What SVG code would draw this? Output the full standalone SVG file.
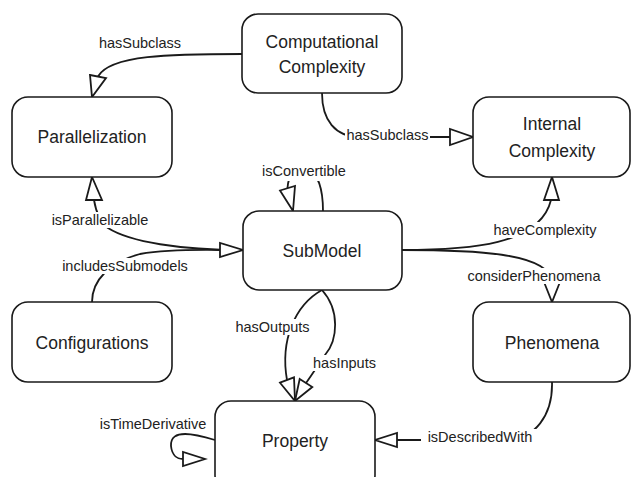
<svg xmlns="http://www.w3.org/2000/svg" width="632" height="477" viewBox="0 0 632 477">
<style>
.node rect{fill:#fff;stroke:#1a1a1a;stroke-width:1.6}
.node text{font-family:"Liberation Sans",Arial,sans-serif;font-size:17.5px;fill:#222;text-anchor:middle}
.edge{fill:none;stroke:#1a1a1a;stroke-width:1.8}
.head{fill:#fff;stroke:#1a1a1a;stroke-width:1.8;stroke-linejoin:miter}
.lbl rect{fill:#fff;stroke:none}
.lbl text{font-family:"Liberation Sans",Arial,sans-serif;font-size:14.5px;fill:#222;text-anchor:middle}
</style>
<rect width="632" height="477" fill="#fff"/>
<g id="connectors">
  <g id="e-hasSubclass-1">
    <path class="edge" d="M242,54 C170,54 110,55 98,76.5"/>
    <polygon class="head" points="90,75 106,78 92,97"/>
  </g>
  <g id="e-hasSubclass-2">
    <path class="edge" d="M322,93 C322,120 335,137 360,137 L450,137"/>
    <polygon class="head" points="450,129 450,145 473,137"/>
  </g>
  <g id="e-isParallelizable">
    <path class="edge" d="M243,250 C180,250 130,242 108,228 C100,222 96,212 94,200"/>
    <polygon class="head" points="86,200 102,200 92,177"/>
  </g>
  <g id="e-includesSubmodels">
    <path class="edge" d="M92,302 C92,280 110,262 140,254 C170,249 200,250 220,250"/>
    <polygon class="head" points="220,243 220,257 243,250"/>
  </g>
  <g id="e-isConvertible">
    <path class="edge" d="M323,211 C323,192 319,170 305,170 C292,170 288,178 287.5,188"/>
    <polygon class="head" points="280,190.5 295,186 293,211"/>
  </g>
  <g id="e-haveComplexity">
    <path class="edge" d="M402,250 C470,250 540,245 551,200"/>
    <polygon class="head" points="544,200 559,200 552,177"/>
  </g>
  <g id="e-considerPhenomena">
    <path class="edge" d="M402,250 C470,250 550,252 552,282"/>
    <polygon class="head" points="544,282 560,282 552,302"/>
  </g>
  <g id="e-hasOutputs">
    <path class="edge" d="M322,290 C295,305 280,340 287,380"/>
    <polygon class="head" points="280,382.7 294,377.3 295,401"/>
  </g>
  <g id="e-hasInputs">
    <path class="edge" d="M322,290 C340,310 338,340 325,355 C318,365 312,375 306,383"/>
    <polygon class="head" points="299.7,379 312.3,387 295,401"/>
  </g>
  <g id="e-isTimeDerivative">
    <path class="edge" d="M215,440 C195,434 170,428 171,446 C172,456 178,459 183,459"/>
    <polygon class="head" points="183,452 183,466 205,459"/>
  </g>
  <g id="e-isDescribedWith">
    <path class="edge" d="M552,382 C553,415 535,440 505,440 L397,440"/>
    <polygon class="head" points="397,433 397,447 375,440"/>
  </g>
  <g id="labels">
    <g class="lbl"><rect x="97" y="35" width="86" height="16"/><text x="140" y="48">hasSubclass</text></g>
    <g class="lbl"><rect x="345" y="127" width="85" height="16"/><text x="387.5" y="140">hasSubclass</text></g>
    <g class="lbl"><rect x="257" y="162" width="94" height="19"/><text x="304" y="176">isConvertible</text></g>
    <g class="lbl"><rect x="47" y="212" width="106" height="16"/><text x="100" y="225">isParallelizable</text></g>
    <g class="lbl"><rect x="56" y="258" width="138" height="16"/><text x="125" y="271">includesSubmodels</text></g>
    <g class="lbl"><rect x="487" y="222" width="116" height="16"/><text x="545" y="235">haveComplexity</text></g>
    <g class="lbl"><rect x="460" y="268" width="148" height="16"/><text x="534" y="281">considerPhenomena</text></g>
    <g class="lbl"><rect x="231" y="319" width="83" height="16"/><text x="272.5" y="332">hasOutputs</text></g>
    <g class="lbl"><rect x="310" y="355" width="69" height="16"/><text x="344.5" y="368">hasInputs</text></g>
    <g class="lbl"><rect x="93" y="416" width="119" height="16"/><text x="153" y="429">isTimeDerivative</text></g>
    <g class="lbl"><rect x="421" y="429" width="119" height="16"/><text x="480" y="442">isDescribedWith</text></g>
  </g>
</g>
<g id="n-computational-complexity" class="node">
  <rect x="242" y="14" width="160" height="79" rx="16"/>
  <text x="322" y="48">Computational</text>
  <text x="322" y="73">Complexity</text>
</g>
<g id="n-parallelization" class="node">
  <rect x="12" y="97" width="160" height="80" rx="16"/>
  <text x="92" y="143">Parallelization</text>
</g>
<g id="n-internal-complexity" class="node">
  <rect x="473" y="97" width="157" height="80" rx="16"/>
  <text x="552" y="130">Internal</text>
  <text x="552" y="157">Complexity</text>
</g>
<g id="n-submodel" class="node">
  <rect x="243" y="211" width="159" height="79" rx="16"/>
  <text x="322" y="257">SubModel</text>
</g>
<g id="n-configurations" class="node">
  <rect x="12" y="302" width="160" height="80" rx="16"/>
  <text x="92" y="349">Configurations</text>
</g>
<g id="n-phenomena" class="node">
  <rect x="473" y="302" width="157" height="80" rx="16"/>
  <text x="552" y="349">Phenomena</text>
</g>
<g id="n-property" class="node">
  <rect x="215" y="401" width="160" height="90" rx="16"/>
  <text x="295" y="447">Property</text>
</g>
</svg>
